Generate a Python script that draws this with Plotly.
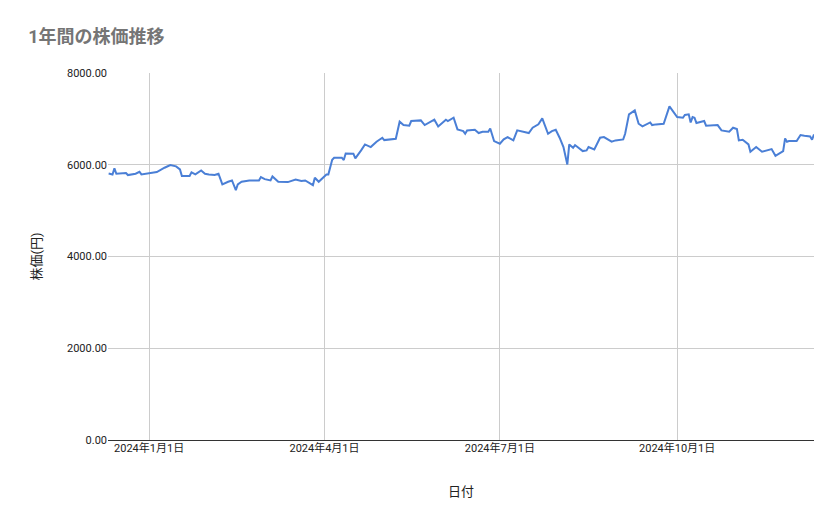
import pandas as pd
import plotly.graph_objects as go

# Day offsets from 2024-01-01 and prices (yen)
days = [-21, -19, -18, -17, -12, -11, -7, -5, -4, 4, 8, 11, 14, 16, 17, 21, 22, 24, 27, 29,
        31, 34, 36, 38, 41, 43, 45, 46, 48, 52, 57, 58, 60, 63, 64, 66, 67, 72, 76, 79,
        81, 85, 86, 88, 92, 93, 95, 96, 100, 101, 102, 106, 107, 110, 112, 115, 118, 121, 122, 128,
        130, 132, 135, 136, 138, 141, 143, 148, 150, 154, 155, 158, 160, 163, 164, 165, 169, 171, 173, 176,
        177, 179, 182, 184, 186, 189, 191, 195, 197, 199, 202, 204, 207, 209, 211, 213, 215, 217, 218, 220,
        221, 225, 227, 228, 231, 234, 236, 240, 242, 246, 247, 249, 252, 254, 256, 260, 261, 263, 267, 270,
        274, 277, 278, 280, 281, 282, 283, 284, 288, 289, 295, 297, 301, 303, 305, 306, 308, 311, 312, 315,
        318, 323, 325, 329, 330, 331, 332, 336, 338, 340, 343, 344, 345]
prices = [5811, 5789, 5920, 5804, 5818, 5775, 5804, 5847, 5789, 5840, 5935, 5993, 5964, 5898, 5753, 5753, 5833, 5789, 5876, 5804,
          5789, 5775, 5804, 5571, 5629, 5658, 5447, 5571, 5629, 5658, 5658, 5731, 5687, 5658, 5745, 5680, 5629, 5622, 5680, 5644,
          5658, 5556, 5716, 5629, 5789, 5789, 6109, 6153, 6153, 6102, 6247, 6240, 6138, 6313, 6443, 6385, 6502, 6589, 6538, 6567,
          6938, 6865, 6851, 6953, 6953, 6967, 6865, 6982, 6836, 6982, 6953, 7025, 6771, 6734, 6676, 6749, 6763, 6691, 6720, 6720,
          6792, 6516, 6458, 6553, 6603, 6531, 6749, 6720, 6691, 6807, 6880, 7011, 6676, 6734, 6763, 6589, 6385, 6007, 6443, 6371,
          6429, 6298, 6313, 6385, 6334, 6589, 6603, 6502, 6531, 6553, 6676, 7098, 7185, 6894, 6836, 6923, 6865, 6880, 6894, 7272,
          7040, 7025, 7084, 7098, 6923, 7040, 7025, 6909, 6953, 6851, 6865, 6749, 6720, 6807, 6778, 6531, 6545, 6443, 6283, 6385,
          6283, 6342, 6196, 6298, 6574, 6502, 6516, 6516, 6647, 6633, 6618, 6545, 6662]

x_tick_vals = ["2024-01-01", "2024-04-01", "2024-07-01", "2024-10-01"]
x_tick_text = ["2024年1月1日", "2024年4月1日", "2024年7月1日", "2024年10月1日"]
y_tick_vals = [0, 2000, 4000, 6000, 8000]

dates = pd.Timestamp("2024-01-01") + pd.to_timedelta(days, unit="D")

fig = go.Figure()
fig.add_trace(go.Scatter(x=dates, y=prices, mode="lines",
                         line=dict(color="#4a7fd6", width=2)))

fig.update_layout(
    width=839, height=519,
    font=dict(family="Roboto, Noto Sans CJK JP", size=11, color="#222222"),
    title=dict(text="<b>1年間の株価推移</b>", x=0.024, y=0.945, xanchor="left", yanchor="middle",
               font=dict(size=18, color="#757575")),
    margin=dict(l=100, r=33, t=65, b=87),
    paper_bgcolor="white", plot_bgcolor="white",
    showlegend=False,
    xaxis=dict(
        title=dict(text="日付", standoff=32),
        range=["2023-12-10 16:00", "2024-12-11"],
        tickvals=x_tick_vals, ticktext=x_tick_text,
        showgrid=True, gridcolor="#cccccc", zeroline=False,
        showline=False, ticks="", automargin=False,
    ),
    yaxis=dict(
        title=dict(text="株価(円)", standoff=22),
        range=[0, 8000], tickvals=y_tick_vals, tickformat=".2f",
        showgrid=True, gridcolor="#cccccc", zeroline=True,
        zerolinecolor="#333333", zerolinewidth=1, ticks="", automargin=False,
    ),
)

fig.write_html("out.html")
